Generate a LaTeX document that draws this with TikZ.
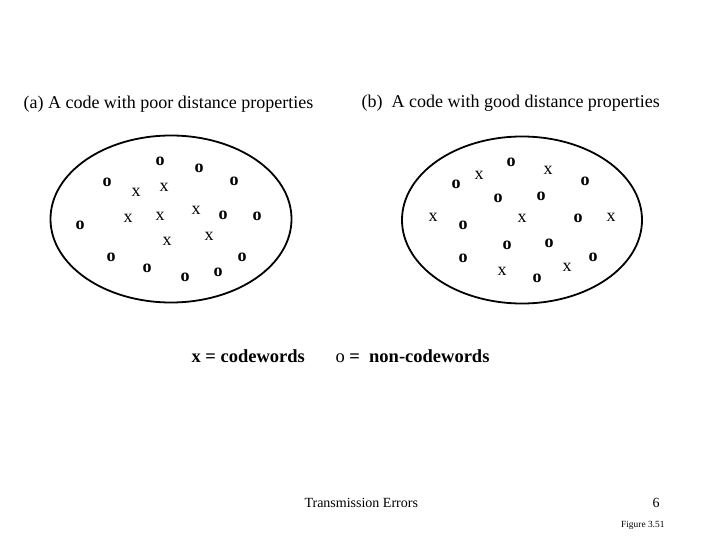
\documentclass[tikz,border=0pt]{standalone}
\usepackage{fontspec}
\setmainfont{Liberation Serif}
\usepackage{tikz}
\usetikzlibrary{shapes.geometric}

\begin{document}
\begin{tikzpicture}[
    x=1pt, y=-1pt,
    space/.style={ellipse, draw=black, line width=1.8pt, inner sep=0pt},
    cw/.style={font=\fontsize{18}{18}\selectfont, inner sep=0pt},
    ncw/.style={font=\fontsize{18}{18}\selectfont\bfseries, inner sep=0pt},
    title/.style={font=\fontsize{18}{20}\selectfont, anchor=west},
    legend/.style={font=\fontsize{18.5}{20}\selectfont\bfseries, anchor=west}
]
    \useasboundingbox (0,0) rectangle (720,540);

    % titles
    \node[title] (ta) at (20,104) {(a) A code with poor distance properties};
    \node[title] (tb) at (358,103) {(b)\enspace A code with good distance properties};

    % code spaces
    \node[space, minimum width=241pt, minimum height=167pt] (sa) at (171,219) {};
    \node[space, minimum width=240pt, minimum height=167pt] (sb) at (522,220) {};

    % (a) poor distance
    \node[ncw] (ao1) at (160,161) {o};
    \node[ncw] (ao2) at (199,168) {o};
    \node[ncw] (ao3) at (107,182) {o};
    \node[ncw] (ao4) at (234,181) {o};
    \node[ncw] (ao5) at (80,225) {o};
    \node[ncw] (ao6) at (223,215) {o};
    \node[ncw] (ao7) at (257,216) {o};
    \node[ncw] (ao8) at (111,257) {o};
    \node[ncw] (ao9) at (147,268) {o};
    \node[ncw] (ao10) at (185,277) {o};
    \node[ncw] (ao11) at (218,272) {o};
    \node[ncw] (ao12) at (242,257) {o};
    \node[cw] (ax1) at (136,192) {x};
    \node[cw] (ax2) at (164,187) {x};
    \node[cw] (ax3) at (128,218) {x};
    \node[cw] (ax4) at (160,216) {x};
    \node[cw] (ax5) at (196,210) {x};
    \node[cw] (ax6) at (167,241) {x};
    \node[cw] (ax7) at (209,236) {x};

    % (b) good distance
    \node[ncw] (bo1) at (511,162) {o};
    \node[ncw] (bo2) at (456,184) {o};
    \node[ncw] (bo3) at (585,181) {o};
    \node[ncw] (bo4) at (498,198) {o};
    \node[ncw] (bo5) at (541,196) {o};
    \node[ncw] (bo6) at (463,225) {o};
    \node[ncw] (bo7) at (578,218) {o};
    \node[ncw] (bo8) at (507,245) {o};
    \node[ncw] (bo9) at (549,243) {o};
    \node[ncw] (bo10) at (463,258) {o};
    \node[ncw] (bo11) at (537,278) {o};
    \node[ncw] (bo12) at (593,257) {o};
    \node[cw] (bx1) at (479,175) {x};
    \node[cw] (bx2) at (548,170) {x};
    \node[cw] (bx3) at (433,217) {x};
    \node[cw] (bx4) at (522,218) {x};
    \node[cw] (bx5) at (611,217) {x};
    \node[cw] (bx6) at (502,271) {x};
    \node[cw] (bx7) at (567,267) {x};

    % legend
    \node[legend] (lx) at (188,356) {x = codewords};
    \node[legend] (lo) at (332,356) {{\mdseries o} =\enspace non-codewords};

    % footer
    \node[font=\fontsize{14}{16}\selectfont, anchor=west] (foot) at (301,503) {Transmission Errors};
    \node[font=\fontsize{14}{16}\selectfont] (page) at (656,503) {6};
    \node[font=\fontsize{9.4}{10}\selectfont, anchor=east] (fig) at (668,525) {Figure 3.51};
\end{tikzpicture}
\end{document}
